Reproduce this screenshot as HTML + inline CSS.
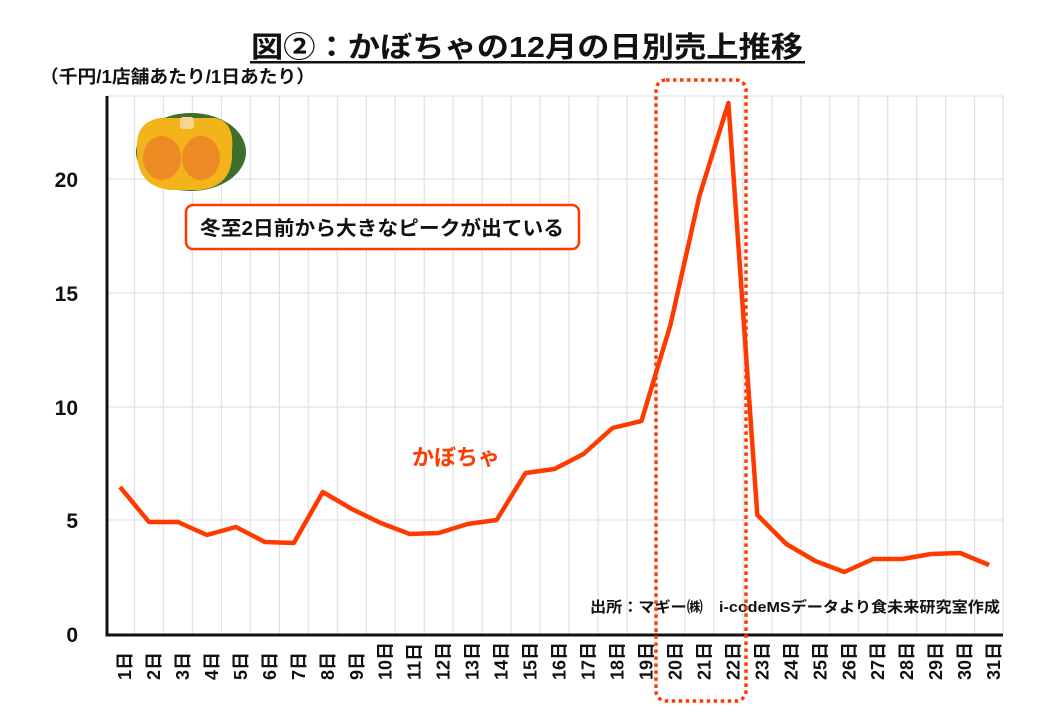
<!DOCTYPE html>
<html><head><meta charset="utf-8"><style>
html,body{margin:0;padding:0;background:#fff;}
svg text{font-family:"Liberation Sans","Noto Sans CJK JP",sans-serif;font-weight:bold;}
</style></head><body>
<svg width="1040" height="720" viewBox="0 0 1040 720" xmlns="http://www.w3.org/2000/svg">
<rect width="1040" height="720" fill="#fff"/>
<text x="527" y="57" font-size="29" text-anchor="middle" fill="#111" textLength="552" lengthAdjust="spacingAndGlyphs">図②：かぼちゃの12月の日別売上推移</text>
<rect x="250" y="61" width="555" height="2.5" fill="#111"/>
<text x="40" y="83" font-size="18" fill="#111" textLength="275" lengthAdjust="spacingAndGlyphs">（千円/1店舗あたり/1日あたり）</text>
<g stroke="#e2e2e2" stroke-width="1.3">
<line x1="107" y1="520" x2="1003" y2="520"/>
<line x1="107" y1="407" x2="1003" y2="407"/>
<line x1="107" y1="293" x2="1003" y2="293"/>
<line x1="107" y1="179" x2="1003" y2="179"/>
<line x1="107" y1="96" x2="1003" y2="96"/>
<line x1="1003" y1="96" x2="1003" y2="634"/>
</g>
<g id="vg" stroke="#e2e2e2" stroke-width="1.3"></g>
<g fill="#111" font-size="21" text-anchor="end">
<text x="78" y="642">0</text>
<text x="78" y="528">5</text>
<text x="78" y="415">10</text>
<text x="78" y="301">15</text>
<text x="78" y="187">20</text>
</g>
<g>
<ellipse cx="191" cy="152" rx="55" ry="39" fill="#3f6e2c"/>
<path d="M137 150 Q135 122 160 118 L215 118 Q235 122 232 150 Q234 186 200 190 L170 190 Q136 186 137 150Z" fill="#f3b41b"/>
<rect x="180" y="117" width="14" height="12" rx="3" fill="#f6d58e"/>
<ellipse cx="162" cy="158" rx="19" ry="22" fill="#ec8a24"/>
<ellipse cx="201" cy="158" rx="19" ry="22" fill="#ec8a24"/>
</g>
<rect x="186" y="205" width="393" height="44" rx="7" fill="#fff" stroke="#ff3a00" stroke-width="2.5"/>
<text x="382" y="235" font-size="20" text-anchor="middle" fill="#111" textLength="364" lengthAdjust="spacingAndGlyphs">冬至2日前から大きなピークが出ている</text>
<text x="412" y="465" font-size="22" fill="#ff3a00" font-weight="normal">かぼちゃ</text>
<polyline id="ln" fill="none" stroke="#ff3a00" stroke-width="4.5" stroke-linejoin="round"/>
<path d="M107 96 L107 635 L1003 635" fill="none" stroke="#111" stroke-width="3"/>
<g id="xl" fill="#111" font-size="18"></g>
<text x="1000" y="612" font-size="15" text-anchor="end" fill="#111" textLength="410" lengthAdjust="spacingAndGlyphs">出所：マギー㈱　i-codeMSデータより食未来研究室作成</text>
<rect x="656" y="80" width="90" height="621" rx="10" fill="none" stroke="#ff3a00" stroke-width="3.5" stroke-dasharray="3.5 3.5"/>
</svg>
<script>
var ys=[487,522,522,535,527,542,543,492,509,523,534,533,524,520,473,469,454,428,421,325,196,103,515,544,561,572,559,559,554,553,565];
var pts=[],vg=document.getElementById('vg'),xl=document.getElementById('xl'),NS="http://www.w3.org/2000/svg";
for(var i=0;i<31;i++){var x=120+i*28.97;pts.push(x.toFixed(1)+","+ys[i]);
var l=document.createElementNS(NS,'line');var gx=x+14.5;if(i<30){l.setAttribute('x1',gx);l.setAttribute('x2',gx);l.setAttribute('y1',96);l.setAttribute('y2',634);vg.appendChild(l);}
var t=document.createElementNS(NS,'text');t.setAttribute('transform','translate('+(x+11)+',680) rotate(-90)');t.textContent=(i+1)+'日';xl.appendChild(t);}
document.getElementById('ln').setAttribute('points',pts.join(' '));
</script>
</body></html>
